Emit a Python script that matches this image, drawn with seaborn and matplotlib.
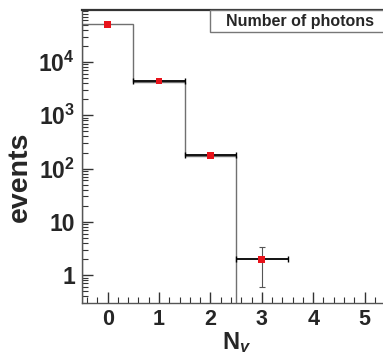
import numpy as np
import pandas as pd
import matplotlib
matplotlib.use("Agg")
import matplotlib.pyplot as plt
import seaborn as sns
from matplotlib.patches import Rectangle
from matplotlib.ticker import LogLocator, FixedLocator, MultipleLocator, NullFormatter

# data
bin_edges = [-0.5, 0.5, 1.5, 2.5]
mc_counts = [52000, 4250, 175]
n_photons = [0, 1, 2, 3]
data_counts = [50000, 4400, 178, 2]
data_err = [224, 66, 13.3, 1.41]
x_ticks = [0, 1, 2, 3, 4, 5]
y_ticks = [1, 10, 100, 1000, 10000]
y_tick_labels = ["1", "10", "$\\mathbf{10^{2}}$", "$\\mathbf{10^{3}}$", "$\\mathbf{10^{4}}$"]

sns.set_style("ticks")
plt.rcParams['font.family'] = ['Liberation Sans', 'DejaVu Sans']
plt.rcParams['mathtext.fontset'] = 'custom'
plt.rcParams['mathtext.rm'] = 'Liberation Sans:bold'
plt.rcParams['mathtext.bf'] = 'Liberation Sans:bold'
plt.rcParams['mathtext.it'] = 'Liberation Sans:bold:italic'

fig = plt.figure(figsize=(3.83, 3.52), dpi=100)
ax = fig.add_axes([0.214, 0.139, 0.805, 0.833])
ax.patch.set_edgecolor("none")
ax.patch.set_linewidth(0)

df = pd.DataFrame({"n": n_photons, "events": data_counts, "err": data_err})

ax.stairs(mc_counts, bin_edges, baseline=0, color="#707070", lw=1.0, zorder=2)

sub = df.iloc[1:]
ax.errorbar(sub["n"], sub["events"], xerr=0.5, fmt="none", ecolor="black",
            elinewidth=1.3, capsize=2.5, capthick=1.0, zorder=3)
ax.errorbar(sub["n"].iloc[-1:], sub["events"].iloc[-1:], yerr=sub["err"].iloc[-1:],
            fmt="none", ecolor="#555555", elinewidth=0.8, capsize=2.5, capthick=0.8, zorder=3)
sns.scatterplot(data=df, x="n", y="events", ax=ax, marker="s", s=24, color="#e8121a",
                edgecolor="none", zorder=4, legend=False)

ax.set_yscale("log")
ax.set_xlim(-0.5, 5.5)
ax.set_ylim(0.3, 9.5e4)

ax.xaxis.set_major_locator(FixedLocator(x_ticks))
ax.xaxis.set_minor_locator(MultipleLocator(0.2))
ax.set_xticklabels([str(t) for t in x_ticks], fontsize=15.5, fontweight="bold")
ax.yaxis.set_major_locator(FixedLocator(y_ticks))
ax.set_yticklabels(y_tick_labels, fontsize=16.5, fontweight="bold")
ax.yaxis.set_minor_locator(LogLocator(base=10, subs=np.arange(2, 10), numticks=20))
ax.yaxis.set_minor_formatter(NullFormatter())

ax.tick_params(axis="both", which="major", direction="in", length=8, width=1.0, color="#333333")
ax.tick_params(axis="both", which="minor", direction="in", length=4, width=0.8, color="#333333")
ax.tick_params(axis="x", which="major", pad=4)
ax.tick_params(axis="y", which="major", pad=5)
ax.tick_params(right=False, top=False, which="both")

for s in ["left", "bottom"]:
    ax.spines[s].set_color("#555555")
    ax.spines[s].set_linewidth(1.0)
ax.spines["right"].set_visible(False)
ax.spines["top"].set_linewidth(1.6)
ax.spines["top"].set_color("#333333")

ax.set_xlabel("N$_{\\gamma}$", fontsize=17, fontweight="bold", labelpad=1)
ax.set_ylabel("events", fontsize=20.5, fontweight="bold")
ax.yaxis.set_label_coords(-0.16, 0.43)

# white strip at the cropped right edge (the reference frame is cut off there)
fig.patches.append(Rectangle((0.991, 0.143), 0.02, 0.762, transform=fig.transFigure,
                             facecolor="white", edgecolor="none", zorder=4))
fig.patches.append(Rectangle((0.548, 0.909), 0.47, 0.063, transform=fig.transFigure,
                             facecolor="white", edgecolor="#777777", linewidth=1.0, zorder=5))
fig.text(0.783, 0.940, "Number of photons", fontsize=11.5, fontweight="bold",
         ha="center", va="center", zorder=6)

fig.savefig("out.png", dpi=100, facecolor="white")
